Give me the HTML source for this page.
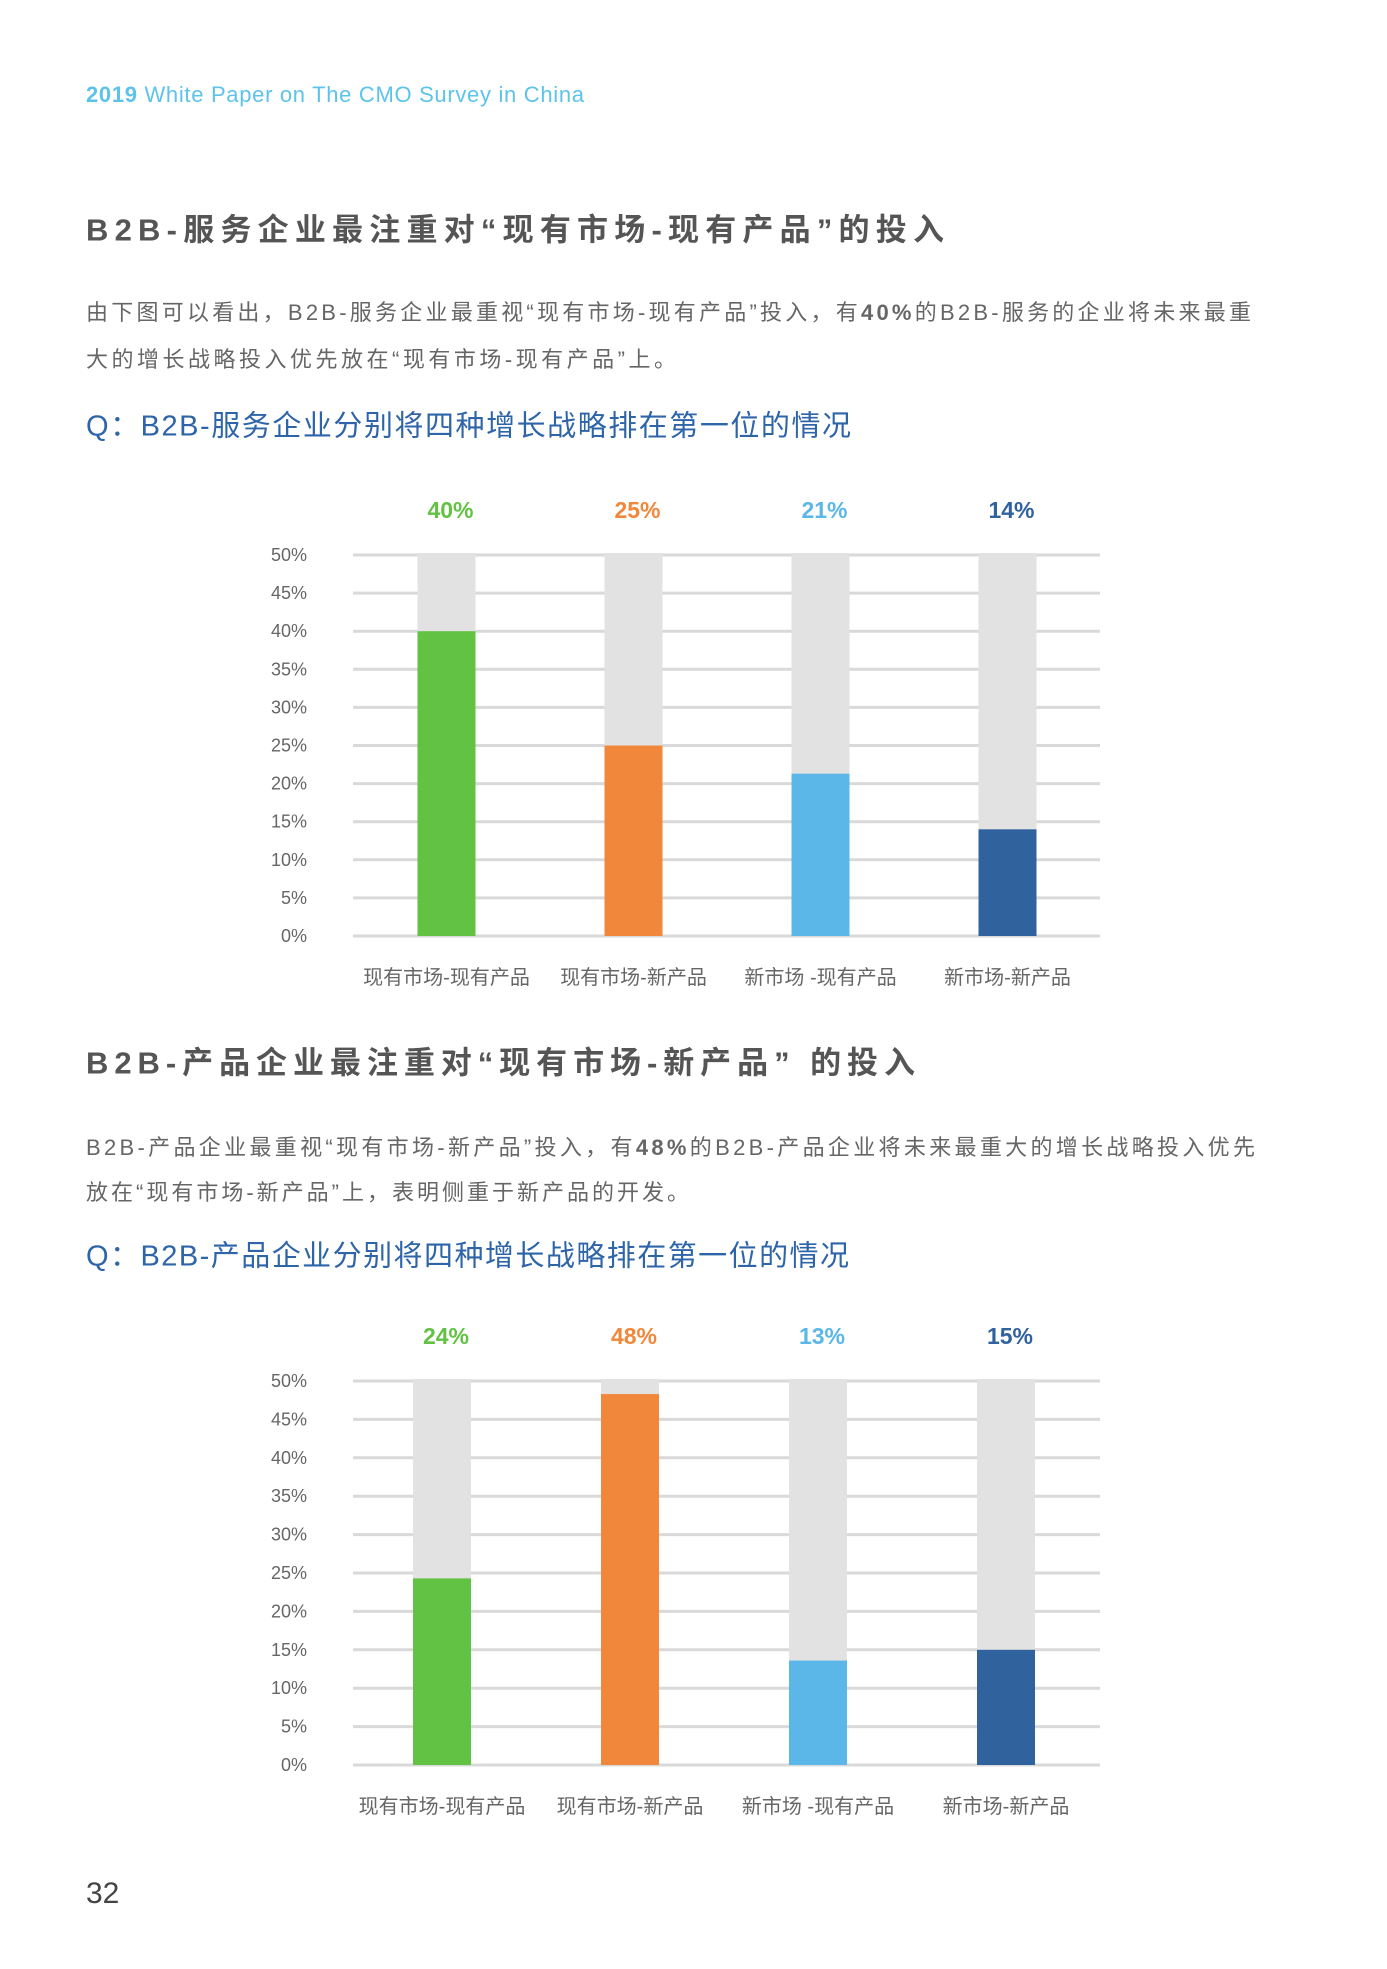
<!DOCTYPE html>
<html><head><meta charset="utf-8">
<style>
body{margin:0;background:#fff;}
#page{position:relative;width:1387px;height:1969px;overflow:hidden;background:#fff;font-family:"Liberation Sans","Noto Sans CJK SC",sans-serif;}
.t{position:absolute;left:86px;white-space:nowrap;line-height:1;transform:translateY(-50%);}
.hdr{font-size:22px;color:#5cc3ea;}
.h{font-size:31px;font-weight:bold;color:#555;}
.p{font-size:22px;color:#666;}
.q{font-size:29px;color:#2e64a8;}
svg{position:absolute;left:0;}
</style></head><body>
<div id="page">
<div class="t hdr" data-w="498" style="top:95px"><b>2019</b> White Paper on The CMO Survey in China</div>
<div class="t h" data-w="858" style="top:230px">B2B-服务企业最注重对“现有市场-现有产品”的投入</div>
<div class="t p" data-w="1165" style="top:313px">由下图可以看出，B2B-服务企业最重视“现有市场-现有产品”投入，有<b>40%</b>的B2B-服务的企业将未来最重</div>
<div class="t p" data-w="590" style="top:360px">大的增长战略投入优先放在“现有市场-现有产品”上。</div>
<div class="t q" data-w="765" style="top:427px">Q：B2B-服务企业分别将四种增长战略排在第一位的情况</div>
<div class="t h" data-w="829" style="top:1063px">B2B-产品企业最注重对“现有市场-新产品” 的投入</div>
<div class="t p" data-w="1169" style="top:1148px">B2B-产品企业最重视“现有市场-新产品”投入，有<b>48%</b>的B2B-产品企业将未来最重大的增长战略投入优先</div>
<div class="t p" data-w="603" style="top:1193px">放在“现有市场-新产品”上，表明侧重于新产品的开发。</div>
<div class="t q" data-w="763" style="top:1257px">Q：B2B-产品企业分别将四种增长战略排在第一位的情况</div>
<div class="t" style="top:1894px;font-size:30px;color:#444;">32</div>
<svg id="chart1" width="1387" height="1969" style="top:0"></svg>
<svg id="chart2" width="1387" height="1969" style="top:0"></svg>
</div>
<script>
const categories=["现有市场-现有产品","现有市场-新产品","新市场 -现有产品","新市场-新产品"];
const servicesValues=[40,25,21.3,14];
const servicesLabels=["40%","25%","21%","14%"];
const productsValues=[24.3,48.3,13.6,15];
const productsLabels=["24%","48%","13%","15%"];
const tickValues=[0,5,10,15,20,25,30,35,40,45,50];
const colors=["#62c243","#f1873a","#5ab7e8","#30629e"];
const NS="http://www.w3.org/2000/svg";
function mk(svg,tag,attrs,text){const e=document.createElementNS(NS,tag);for(const k in attrs)e.setAttribute(k,attrs[k]);if(text!==undefined)e.textContent=text;svg.appendChild(e);return e;}
function draw(svg,vals,labels,y0,y50,x0,step,prefix){
  const y=v=>y0-(v/50)*(y0-y50);
  const xc=i=>x0+(i+0.5)*step;
  const bw=58;
  tickValues.forEach(t=>{
    const g=mk(svg,'line',{x1:353,x2:1100,y1:y(t),y2:y(t),stroke:'#d9d9d9','stroke-width':3});
    
    
    const l=mk(svg,'text',{x:307,y:y(t)+6,'text-anchor':'end','font-size':18,fill:'#666','font-family':'Liberation Sans, sans-serif'},t+'%');
    
    
  });
  vals.forEach((v,i)=>{
    const bg=mk(svg,'rect',{x:xc(i)-bw/2,y:y(50)-2,width:bw,height:y(0)-y(50)+2,fill:'#e2e2e2'});
    
    
    const b=mk(svg,'rect',{x:xc(i)-bw/2,y:y(v),width:bw,height:y(0)-y(v),fill:colors[i]});
    
    
    const vl=mk(svg,'text',{x:xc(i)+4,y:y50-37,'text-anchor':'middle','font-size':23,'font-weight':'bold',fill:colors[i],'font-family':'Liberation Sans, sans-serif'},labels[i]);
    
    
    const cl=mk(svg,'text',{x:xc(i),y:y0+48,'text-anchor':'middle','font-size':20,fill:'#666','font-family':'Liberation Sans, Noto Sans CJK SC, sans-serif'},categories[i]);
    
    
  });
}
draw(document.getElementById('chart1'),servicesValues,servicesLabels,936,555,353,187,'services');
draw(document.getElementById('chart2'),productsValues,productsLabels,1765,1381,348,188,'products');
document.querySelectorAll('[data-w]').forEach(el=>{
  const target=+el.getAttribute('data-w');
  const n=el.textContent.length;
  const w=el.getBoundingClientRect().width;
  const ls=(target-w)/Math.max(1,n-1);
  if(Math.abs(ls)<8) el.style.letterSpacing=ls+'px';
});
</script>
</body></html>
